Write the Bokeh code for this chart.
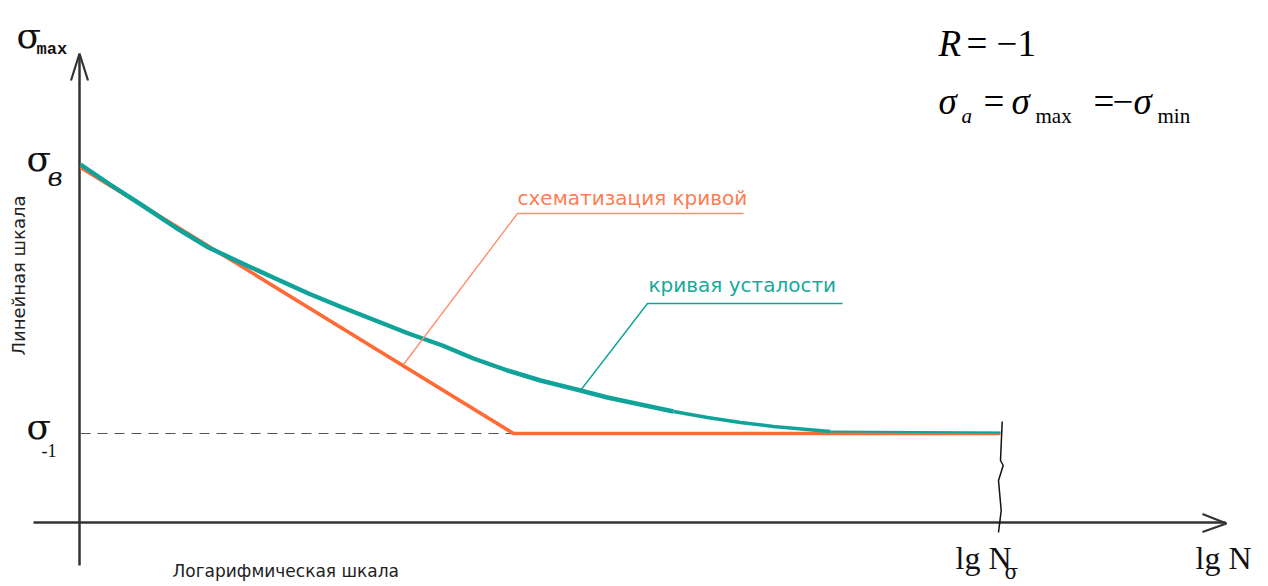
from bokeh.plotting import figure
from bokeh.models import Range1d
from bokeh.core.properties import value
from bokeh.embed import file_html
from bokeh.resources import INLINE

# ---- schematic data (x: lg N units, y: sigma_max units, origin at axes crossing) ----
sigma_b = 357          # ultimate strength level
sigma_m1 = 89          # endurance limit sigma_-1
lg_N_sigma = 921       # base number of cycles
knee_lgN = 434         # knee of the schematised curve

fatigue_lgN = [1, 29, 63, 96, 129, 163, 196, 229, 263, 296, 329, 363, 394, 428, 461,
               501, 528, 561, 594, 628, 661, 694, 728, 751, 921]
fatigue_sigma = [358, 339, 317, 295, 275, 259, 244, 229, 215, 202, 189, 177, 164, 152, 142,
                 132, 125, 118, 111, 105, 100, 96, 93, 91, 90]

schem_lgN = [1, knee_lgN, lg_N_sigma]
schem_sigma = [sigma_b - 2, sigma_m1, sigma_m1]

label_schem = "схематизация кривой"
label_fatigue = "кривая усталости"
label_y_scale = "Линейная шкала"
label_x_scale = "Логарифмическая шкала"

ORANGE = "#FF6A35"
ORANGE_LIGHT = "#FF8F6E"
ORANGE_TEXT = "#FF7B52"
TEAL = "#10A39A"
TEAL_TEXT = "#17A99C"
AX = "#333333"

p = figure(width=1268, height=586, x_range=Range1d(-79, 1189), y_range=Range1d(-64, 522),
           output_backend="svg", toolbar_location=None, min_border=0,
           x_axis_location=None, y_axis_location=None)
p.grid.visible = False
p.outline_line_color = None
p.background_fill_color = "white"
p.border_fill_color = "white"

# axes with open arrow heads
p.line([0, 0], [-43, 468], line_color=AX, line_width=2.5)
p.line([-8.5, 0, 8.5], [442, 469, 442], line_color=AX, line_width=2.2)
p.line([-46, 1146], [0, 0], line_color=AX, line_width=2.5)
p.line([1123, 1147, 1123], [8.5, -1, -9.5], line_color=AX, line_width=2.2)

# dashed endurance-limit line
p.line([1, knee_lgN + 2], [sigma_m1, sigma_m1], line_color="#555555", line_width=1.2, line_dash="10 7")

# break mark at lg N_sigma
p.line([lg_N_sigma + 1.7, lg_N_sigma, lg_N_sigma + 2.7, lg_N_sigma - 2, lg_N_sigma + 0.7, lg_N_sigma - 2],
       [sigma_m1 + 12, 62, 57, 42, 12, -10], line_color="#111111", line_width=1.5)

# schematised curve
p.line(schem_lgN, schem_sigma, line_color=ORANGE, line_width=3.5)

# fatigue curve (thinner toward the tail)
p.line(fatigue_lgN[:19], fatigue_sigma[:19], line_color=TEAL, line_width=4.5, line_join="round")
p.line(fatigue_lgN[18:24], fatigue_sigma[18:24], line_color=TEAL, line_width=3.5, line_join="round")
p.line(fatigue_lgN[23:], fatigue_sigma[23:], line_color=TEAL, line_width=2)

# leader lines
p.line([324, 438, 664], [158, 309, 309], line_color=ORANGE_LIGHT, line_width=1.4)
p.line([501, 568, 763], [132, 219, 219], line_color=TEAL, line_width=1.4)


def label(x, y, s, font, size, color, style="normal", angle=0.0, align="left", baseline="alphabetic"):
    # y is the intended baseline; the svg renderer draws glyphs ~0.38 em lower, so compensate
    shift = 0.38 * size if baseline == "alphabetic" else 0.0
    p.text(x=[x], y=[y + shift], text=[s], text_font=value(font), text_font_size=value(f"{size}px"),
           text_color=color, text_font_style=style, angle=angle,
           text_align=align, text_baseline=baseline)


label(438, 317, label_schem, "DejaVu Sans", 20, ORANGE_TEXT)
label(569, 230, label_fatigue, "DejaVu Sans", 20, TEAL_TEXT)
label(-61, 247, label_y_scale, "DejaVu Sans", 18, "#222222", angle=1.5708, align="center", baseline="middle")
label(93, -55, label_x_scale, "DejaVu Sans", 17, "#222222")

# axis symbols
label(-63, 473, "σ", "DejaVu Serif", 36, "#111111")
label(-43, 467, "max", "Liberation Mono", 17, "#111111", style="bold")
label(-53, sigma_b - 7, "σ", "DejaVu Serif", 36, "#111111")
label(-32, sigma_b - 21, "в", "DejaVu Serif", 26, "#111111", style="italic")
label(-53, sigma_m1 - 7, "σ", "DejaVu Serif", 36, "#111111")
label(-38, sigma_m1 - 24, "-1", "Liberation Serif", 18, "#111111")

label(876, -48, "lg N", "Liberation Serif", 32, "#111111")
label(925, -57, "σ", "DejaVu Serif", 20, "#111111")
label(1116, -48, "lg N", "Liberation Serif", 32, "#111111")

# formula block
label(859, 465, "R", "Liberation Serif", 37, "#000000", style="italic")
label(887, 465, "= −1", "Liberation Serif", 37, "#000000")
label(859, 407, "σ", "Liberation Serif", 37, "#000000", style="italic")
label(882, 399, "a", "Liberation Serif", 21, "#000000", style="italic")
label(904, 407, "=", "Liberation Serif", 37, "#000000")
label(932, 407, "σ", "Liberation Serif", 37, "#000000", style="italic")
label(956, 399, "max", "Liberation Serif", 21, "#000000")
label(1014, 407, "=", "Liberation Serif", 37, "#000000")
label(1033, 407, "−", "Liberation Serif", 37, "#000000")
label(1054, 407, "σ", "Liberation Serif", 37, "#000000", style="italic")
label(1078, 399, "min", "Liberation Serif", 21, "#000000")

open("out.html", "w").write(file_html(p, INLINE))
